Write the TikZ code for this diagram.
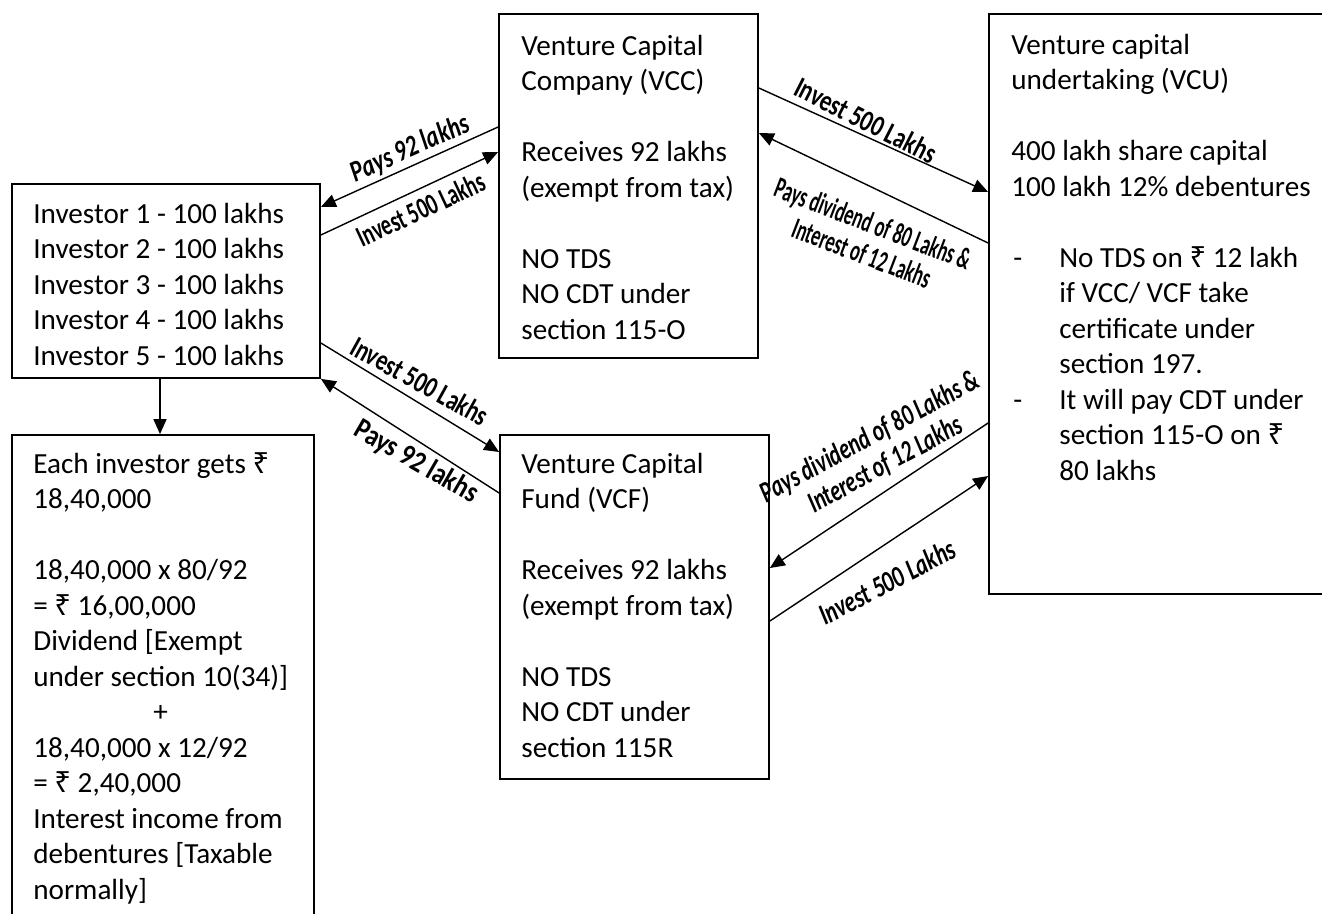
\documentclass[tikz,border=0pt]{standalone}
\usepackage{fontspec}
\usepackage{graphicx}
\setmainfont{Carlito}
\newfontfamily\rupfont{Noto Sans}
\usetikzlibrary{arrows.meta,fit}
\newcommand{\rupee}{{\rupfont ₹}}
\newcommand{\lbl}[2]{\resizebox{#1}{\height}{#2}}
\begin{document}
\begin{tikzpicture}[x=0.02cm,y=-0.02cm,
  box/.style={draw, line width=1pt, inner sep=0pt},
  txt/.style={anchor=base west, inner sep=0pt, align=left, font=\fontsize{16.6}{20.2}\selectfont},
  arr/.style={-{Triangle[length=0.3cm,width=0.26cm]}, line width=0.8pt},
  lab/.style={inner sep=0pt, font=\fontsize{17}{18}\selectfont\bfseries}]
\useasboundingbox (0,0) rectangle (1322,913);
\fill[white] (0,0) rectangle (1322,913);

% boxes
\node[box, fit={(12,184) (320,378)}] (inv) {};
\node[box, fit={(12,435) (314,960)}] (each) {};
\node[box, fit={(499,14) (758,358)}] (vcc) {};
\node[box, fit={(500,435) (769,779)}] (vcf) {};
\node[box, fit={(989,14) (1360,594)}] (vcu) {};

% texts (anchor = baseline of last line)
\node[txt] (invt) at (33,365) {Investor 1 - 100 lakhs\\Investor 2 - 100 lakhs\\Investor 3 - 100 lakhs\\Investor 4 - 100 lakhs\\Investor 5 - 100 lakhs};
\node[txt] (eacht) at (33,899) {Each investor gets \rupee\\18,40,000\\[20.2pt]18,40,000 x 80/92\\= \rupee\ 16,00,000\\Dividend [Exempt\\under section 10(34)]\\\hspace*{2.4cm}+\\18,40,000 x 12/92\\= \rupee\ 2,40,000\\Interest income from\\debentures [Taxable\\normally]};
\node[txt] (vcct) at (521,339) {Venture Capital\\Company (VCC)\\[20.2pt]Receives 92 lakhs\\(exempt from tax)\\[20.2pt]NO TDS\\NO CDT under\\section 115-O};
\node[txt] (vcft) at (521,757) {Venture Capital\\Fund (VCF)\\[20.2pt]Receives 92 lakhs\\(exempt from tax)\\[20.2pt]NO TDS\\NO CDT under\\section 115R};
\node[txt] (vcut) at (1011,480) {Venture capital\\undertaking (VCU)\\[20.2pt]400 lakh share capital\\100 lakh 12\% debentures\\[20.2pt]\makebox[0.96cm][l]{\hspace{0.04cm}-}No TDS on \rupee\ 12 lakh\\\hspace*{0.96cm}if VCC/ VCF take\\\hspace*{0.96cm}certificate under\\\hspace*{0.96cm}section 197.\\\makebox[0.96cm][l]{\hspace{0.04cm}-}It will pay CDT under\\\hspace*{0.96cm}section 115-O on \rupee\\\hspace*{0.96cm}80 lakhs};

% connectors
\draw[arr] (vcc.west |- 0,127) -- (inv.east |- 0,207);
\draw[arr] (inv.east |- 0,235) -- (vcc.west |- 0,152);
\draw[arr] (inv.east |- 0,343) -- (vcf.west |- 0,452);
\draw[arr] (vcf.west |- 0,493) -- (inv.south east);
\draw[arr] (vcc.east |- 0,88) -- (vcu.west |- 0,192);
\draw[arr] (vcu.west |- 0,243) -- (vcc.east |- 0,133);
\draw[arr] (vcu.west |- 0,423) -- (vcf.east |- 0,568);
\draw[arr] (vcf.east |- 0,621) -- (vcu.west |- 0,476);
\draw[arr] (inv.south -| 160,0) -- (each.north -| 160,0);

% labels
\node[lab, rotate=24] (l1) at (410,149) {\lbl{2.54cm}{\itshape Pays 92 lakhs}};
\node[lab, rotate=25] (l2) at (421,209) {\lbl{2.76cm}{Invest 500 Lakhs}};
\node[lab, rotate=-29] (l3) at (420,381) {\lbl{3.04cm}{Invest 500 Lakhs}};
\node[lab, rotate=-30] (l4) at (416,462) {\lbl{2.76cm}{Pays 92 lakhs}};
\node[lab, rotate=-27] (l5) at (866,120) {\lbl{3.1cm}{Invest 500 Lakhs}};
\node[lab, rotate=-21] (l6) at (866,242) {\lbl{4.16cm}{\begin{tabular}{@{}c@{}}Pays dividend of 80 Lakhs \&\\Interest of 12 Lakhs\end{tabular}}};
\node[lab, rotate=28.5] (l7) at (879,453) {\lbl{4.9cm}{\itshape\begin{tabular}{@{}c@{}}Pays dividend of 80 Lakhs \&\\Interest of 12 Lakhs\end{tabular}}};
\node[lab, rotate=27.5] (l8) at (887,582) {\lbl{3.0cm}{\itshape Invest 500 Lakhs}};
\end{tikzpicture}
\end{document}
